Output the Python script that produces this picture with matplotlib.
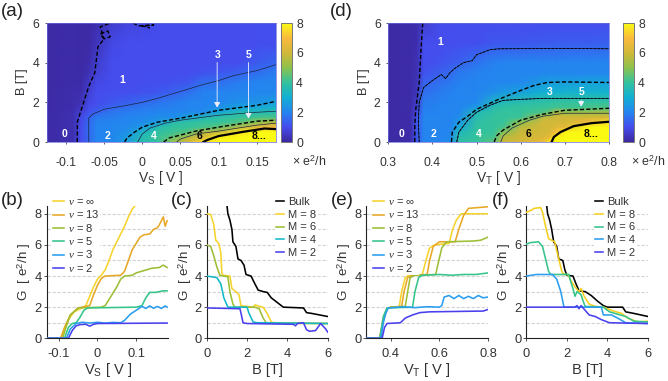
import numpy as np
import matplotlib
matplotlib.use('Agg')
import matplotlib.pyplot as plt
from matplotlib.colors import LinearSegmentedColormap

plt.rcParams['font.family'] = ['Liberation Sans', 'DejaVu Sans']
plt.rcParams['mathtext.fontset'] = 'custom'
plt.rcParams['mathtext.rm'] = 'Liberation Sans'
plt.rcParams['mathtext.it'] = 'Liberation Serif:italic'
TXT = '#333333'

# ---------- heat map data ----------
B_rows = [0, .25, .5, .75, 1, 1.25, 1.5, 1.75, 2, 2.5, 3, 3.5, 4, 5, 6]
Vs_cols = [-.125, -.09, -.08, -.07, -.06, -.04, -.02, 0, .02, .04, .06, .08, .1, .125, .15, .175]
heat_a = [
    [.1]*15,
    [.25,.25,.25,.25,.25,.25,.25,.2,.2,.2,.15,.15,.15,.15,.15],
    [1,1,1,1,.95,.9,.7,.45,.3,.2,.15,.1,.1,.1,.1],
    [1.5,1.5,1.5,1.5,1.5,1.4,1.1,1,.9,.7,.5,.3,.2,.1,.1],
    [2,2,2,2,1.95,1.8,1.4,1.15,1,1,.9,.7,.6,.4,.2],
    [2.05,2.05,2.05,2.05,2,1.9,1.75,1.45,1.2,1.05,1,1,1,.9,.6],
    [2.6,2.5,2.3,2.1,2.05,2,1.9,1.6,1.35,1.05,1,1,1,1,.8],
    [3.7,3.6,3.3,2.5,2.2,2.05,1.95,1.8,1.5,1.1,1,1,1,1,.9],
    [4,4,3.95,3.65,2.5,2.2,2.05,1.9,1.7,1.2,1.05,1,1,1,1],
    [5.2,4.5,4.1,4,3.7,2.2,2.05,1.95,1.85,1.4,1.1,1,1,1,1],
    [6,5.6,4.4,4,3.95,2.8,2.1,2,2,1.65,1.2,1,1,1,1],
    [7.5,6.2,5.7,4.2,4,3.5,2.2,2.05,2,1.95,1.6,1.1,1,1,1],
    [8,7.8,5.9,4.5,4,3.9,2.8,2.3,2.05,2,1.65,1.2,1,1,1],
    [8,8,7.6,5.6,4.3,4,3.6,2.7,2.3,2,1.9,1.35,1,1,1],
    [8,8,8,6.5,5,4.2,3.5,2.8,2.4,2.05,2,1.6,1.25,1,1],
    [8,8,8,7,5.7,4.3,3.8,3.2,2.6,2.1,2,1.9,1.45,1.05,1],
]
Vt_cols = [.3, .35, .365, .38, .42, .44, .46, .5, .54, .56, .6, .65, .665, .68, .7, .75, .8]
heat_d = [
    [.1]*15,
    [.15]*15,
    [1.2,1.2,1.2,1.2,1.2,1.1,.9,.75,.6,.4,.35,.3,.3,.2,.2],
    [2,2,2,2,2,2,1.95,1.9,1.85,1.6,1.4,1.1,1,1,.6],
    [2,2,2,2,2,2,2,2,1.95,1.9,1.65,1.4,1.15,1,1],
    [2.2,2.1,2.05,2,2,2,2,2,2,1.95,1.8,1.55,1.25,1,1],
    [3.9,3.7,3.4,2.8,2.5,2.2,2.05,2,2,2,1.95,1.8,1.35,1.05,1],
    [4,4,4,3.95,3.85,3.7,3.5,2.5,2.1,2,2,1.95,1.7,1.05,1],
    [4.5,4.2,4.05,4,4,4,3.95,3.75,3.3,2.3,2.05,2,1.95,1.2,1],
    [5.9,5.6,4.9,4.2,4,4,4,3.9,3.55,2.5,2.05,2,2,1.2,1],
    [6,6,5.9,5.7,5,4.1,4,4,3.7,2.7,2.1,2,2,1.2,1],
    [6.6,6.2,6,6,6,5.7,4.3,4.05,3.9,3,2.55,2.05,2,1.25,1],
    [7.6,6.6,6.1,6,6,5.8,4.6,4.05,3.95,3,2.6,2.05,2,1.25,1],
    [8,7.9,7,6.3,6,6,5.6,4.15,4,3.05,2.6,2.05,2,1.3,1],
    [8,8,7.9,6.5,6,6,5.2,4.1,4,3.1,2.6,2.05,2,1.3,1],
    [8,8,8,8,6.8,6,5.3,4.2,4,3.1,2.7,2.05,2,1.3,1],
    [8,8,8,8,7.6,6.1,5.3,4.3,4,3.1,2.7,2.05,2,1.35,1],
]

# ---------- contour traces (V, B) ----------
a_c05 = ([-.085,-.085,-.08,-.07,-.062,-.058,-.05,-.055,-.045,-.042,-.05,-.055,-.042],
         [0,1,1.6,2.8,3.5,4.8,5.2,5.45,5.6,5.3,5.2,5.8,6])
a_c05b = ([-.012,-.005,.015,.0,.01], [6,5.85,5.9,5.85,5.75])
a_c15 = ([-.07,-.07,-.065,-.05,-.02,0,.02,.05,.08,.1,.12,.15,.175],
         [0,1.2,1.4,1.65,1.85,2,2.2,2.55,2.9,3.1,3.35,3.6,3.9])
a_c25 = ([-.023,-.02,-.01,0,.02,.05,.1,.15,.175], [0,.2,.5,.75,1,1.2,1.6,1.85,2.05])
a_c35 = ([-.006,0,.01,.03,.05,.1,.15,.175], [0,.4,.7,.95,1.1,1.35,1.5,1.55])
a_c45 = ([.028,.035,.05,.07,.1,.15,.175], [0,.2,.35,.55,.75,1.05,1.1])
a_c55 = ([.045,.05,.07,.1,.15,.175], [0,.15,.4,.55,.85,.95])
a_c75 = ([.08,.085,.1,.13,.16,.175], [0,.1,.3,.5,.68,.65])

d_c05 = ([.36,.36,.362,.37,.375,.378], [0,.8,1.6,3,5,6])
d_c15 = ([.37,.368,.37,.38,.4,.42,.43,.44,.45,.47,.49,.5,.53,.55,.7,.8],
         [0,1,2,2.75,3.1,3.4,3.2,3.5,3.7,4.0,4.1,4.4,4.65,4.7,4.72,4.7])
d_c25 = ([.443,.445,.46,.48,.5,.55,.6,.63,.66,.7,.8], [0,.5,1,1.3,1.65,2.15,2.6,2.85,3,3.03,3])
d_c35 = ([.455,.46,.48,.5,.53,.56,.6,.65,.8], [0,.5,1.1,1.5,1.85,2.1,2.15,2.2,2.2])
d_c45 = ([.54,.545,.56,.6,.65,.7,.75,.8], [0,.3,.6,1.1,1.4,1.6,1.65,1.7])
d_c55 = ([.555,.56,.58,.62,.65,.7,.8], [0,.3,.7,1.1,1.3,1.45,1.45])
d_c75 = ([.67,.675,.69,.72,.76,.8], [0,.25,.5,.8,.95,1.02])

# ---------- line panels ----------
b_inf = ([-.13,-.095,-.085,-.075,-.06,-.04,-.03,-.02,-.01,0,.01,.02,.03,.04,.05,.06,.07,.08,.09,.1],
         [0,0,.6,1.2,1.7,1.95,2.1,2.7,3.3,3.8,4.05,4.4,5,5.7,6.2,6.7,7.2,7.8,8.3,8.6])
b_13 = ([-.13,-.095,-.085,-.07,-.05,-.02,-.01,0,.01,.02,.06,.07,.08,.09,.1,.11,.12,.135,.145,.155,.16,.17,.175,.18],
        [0,0,.7,1.5,1.95,2.1,2.8,3.4,3.85,4,4.05,4.3,5,5.7,6.1,6.5,6.65,6.7,7,7.1,7.3,7.8,7.2,7.55])
b_8 = ([-.13,-.09,-.08,-.07,-.05,.01,.02,.03,.04,.05,.06,.07,.09,.1,.12,.14,.16,.17,.18],
       [0,0,.8,1.5,1.95,2,2.1,2.5,2.9,3.3,3.8,4,4.05,4.2,4.35,4.5,4.55,4.7,4.55])
b_5 = ([-.13,-.085,-.075,-.065,-.055,-.045,-.035,-.025,.1,.115,.125,.135,.15,.17,.18],
       [0,0,.7,.95,1,1.35,1.8,1.95,2,2.1,2.6,2.95,2.95,3.05,3.05])
b_3 = ([-.13,-.08,-.07,-.055,-.04,-.02,0,.02,.04,.06,.07,.085,.1,.115,.125,.135,.145,.155,.165,.175,.18],
       [0,0,.6,.95,1.03,.98,1.03,.98,1.02,1,1.15,1.55,1.8,2.05,1.92,2.08,1.93,2.05,1.92,2.08,2])
b_2 = ([-.13,-.075,-.065,-.055,-.045,-.03,-.02,-.01,0,.18],
       [0,0,.5,.8,.88,.9,.78,.9,.95,.98])

c_bulk = ([1,1.05,1.15,1.25,1.3,1.45,1.55,1.7,1.85,1.95,2.2,2.35,2.55,2.8,3,3.2,3.5,3.8,4.8,4.95,5.2,5.6,6],
          [8.6,8,7.6,7,6.2,5.9,5.1,5,4.7,4.1,4,3.6,3.1,3,2.95,2.6,2.3,2,1.95,1.65,1.6,1.5,1.4])
c_8 = ([0,.2,.35,.45,.6,.7,.75,.8,1.15,1.25,1.45,1.6,1.7,2.3,2.4,2.6,2.8,3,3.2,3.5,6],
       [8,7.95,7.3,6.3,6.1,5.5,4.2,4.05,4,3.2,3,2.8,2.1,2,2.15,2.05,2,1.6,1.05,.95,.95])
c_6 = ([0,.2,.35,.5,.65,1.05,1.15,1.3,1.4,2.4,2.6,2.8,2.95,6],
       [6,5.9,5.3,4.6,4.05,3.95,3,2.2,2,2,1.9,1.3,1,.95])
c_4 = ([0,.5,.7,.85,1.05,2,2.1,2.3,2.5,6], [4,3.9,3.5,2.6,2,2,1.6,1.05,1,.95])
c_2 = ([0,1.65,1.72,1.8,2,4.3,4.4,4.5,4.8,4.95,5.1,5.4,5.65,5.9,6],
       [1.95,1.9,1.5,1,.95,.9,.8,.95,1,.55,.45,.5,.95,.6,.4])

e_inf = ([.3,.355,.37,.385,.4,.435,.445,.46,.475,.53,.545,.56,.58,.64,.655,.67,.69,.8],
         [0,0,1.2,1.9,2,2,3,3.9,4.05,4.1,5,5.8,6,6.1,7,7.6,8,8])
e_13 = ([.3,.355,.37,.385,.4,.445,.455,.47,.49,.55,.56,.575,.6,.665,.68,.7,.72,.8],
        [0,0,1.3,1.9,2,2.05,3,3.9,4.05,4.1,5,5.9,6.2,6.2,7,7.9,8.35,8.45])
e_8 = ([.3,.36,.37,.385,.4,.46,.47,.48,.5,.585,.595,.61,.63,.74,.77,.8],
       [0,0,1.2,1.9,2,2.05,3,3.9,4.05,4.1,4.8,5.8,6.2,6.25,6.3,6.5])
e_5 = ([.3,.355,.37,.385,.49,.5,.515,.53,.6,.65,.7,.75,.8],
       [0,0,1.4,1.95,2,3,3.9,4.05,4.1,4.05,4.1,4.1,4.2])
e_3 = ([.3,.36,.37,.38,.39,.45,.5,.55,.6,.61,.62,.64,.66,.68,.7,.72,.74,.76,.78,.8],
       [0,0,1,1.6,1.95,2.02,1.97,2.03,2,2.1,2.65,2.75,2.55,2.75,2.55,2.7,2.55,2.75,2.6,2.65])
e_2 = ([.3,.365,.375,.385,.44,.46,.49,.52,.56,.78,.8],
       [0,0,.7,.95,1,1.3,1.5,1.65,1.7,1.75,1.85])

f_bulk = ([1,1.05,1.15,1.25,1.35,1.5,1.6,1.8,1.9,2,2.3,2.45,2.6,2.9,3.2,3.5,3.8,4,4.75,4.9,5.3,6],
          [8.6,8,7.6,7,6.2,5.9,5.1,5,4.4,4.05,4,3.5,3.05,3,2.75,2.4,2.1,2,2,1.7,1.6,1.4])
f_8 = ([0,.2,.4,.7,.8,.95,1.1,1.4,1.6,1.75,1.85,2.05,2.2,2.4,2.6,2.7,2.85,3.1,3.4,3.8,4,4.3,4.7,5,5.5,6],
       [8.1,8.2,8.35,8.4,8.1,7.2,6.4,6.2,5.1,4.3,4.1,4.1,3.7,3.3,3,3.2,2.7,2.2,2.05,2,1.9,1.75,1.6,1.3,1.05,1.1])
f_6 = ([0,.2,.6,.8,.95,1.1,1.2,2.1,2.2,2.3,2.4,2.5,2.7,2.8,2.9,3.8,4.1,4.5,4.9,5.3,6],
       [6.05,6.15,6.2,5.9,5.1,4.3,4.1,4.1,3.6,3.2,2.7,3,2.8,2.4,2.05,2,1.7,1.55,1.4,1.1,1.05])
f_4 = ([0,.5,1.3,1.5,1.7,1.85,1.9,3.7,3.8,4.2,4.5,4.9,6],
       [4,4.1,4.1,3.8,3,2.05,2,2,1.5,1.5,1.3,1,.95])
f_2 = ([0,2.4,2.5,2.6,2.7,2.9,3.1,3.4,3.7,4.1,6],
       [2,2,2.1,1.9,2.1,1.8,1.5,1.4,1.2,1,.95])

nu_labels = [r'$\nu$ = $\infty$', r'$\nu$ = 13', r'$\nu$ = 8', r'$\nu$ = 5', r'$\nu$ = 3', r'$\nu$ = 2']
c_labels = ['Bulk', 'M = 8', 'M = 6', 'M = 4', 'M = 2']
G_ticks = [0, 2, 4, 6, 8]

# ---------- colours ----------
parula = LinearSegmentedColormap.from_list('parula', [
    (0.00, (0.235, 0.155, 0.62)),
    (0.125, (0.27, 0.30, 0.93)),
    (0.25, (0.14, 0.52, 0.94)),
    (0.375, (0.07, 0.69, 0.83)),
    (0.50, (0.20, 0.76, 0.62)),
    (0.625, (0.55, 0.76, 0.30)),
    (0.75, (0.82, 0.72, 0.22)),
    (0.875, (0.98, 0.73, 0.24)),
    (1.00, (0.98, 0.98, 0.07))])
Y = '#f6d32d'; O = '#e6a826'; LG = '#9cbf35'; G = '#35c48a'; AZ = '#2a9df0'; V = '#4a40ee'
TEAL = '#12b8c8'

W, H = 668, 381
fig = plt.figure(figsize=(W/100, H/100), dpi=100)

def axpx(x0, x1, y0, y1):
    return fig.add_axes([x0/W, 1-y1/H, (x1-x0)/W, (y1-y0)/H])

def heat(x0, x1, cols, data, xlim, xticks, xtlab, xlabel, xl_x, yl_x, cb0, cb1):
    ax = axpx(x0, x1, 23, 142)
    Z = np.array(data).T
    m = ax.pcolormesh(cols, B_rows, Z, cmap=parula, vmin=0, vmax=8, shading='gouraud', rasterized=True)
    ax.set_xlim(*xlim); ax.set_ylim(0, 6)
    ax.set_xticks(xticks); ax.set_xticklabels(xtlab)
    ax.set_yticks([0, 2, 4, 6])
    ax.tick_params(direction='out', length=1.5, width=.6, labelsize=8.8, labelcolor=TXT, color='#444444')
    ax.tick_params(axis='x', pad=9)
    ax.tick_params(axis='y', pad=4)
    for s in ax.spines.values():
        s.set_linewidth(.5); s.set_color('#6a6fd8')
    fig.text(yl_x/W, 1-82/H, 'B [T]', fontsize=9.2, color=TXT, rotation=90, ha='center', va='center')
    fig.text(xl_x/W, 1-178/H, xlabel, fontsize=10, color=TXT, ha='center', va='center')
    cax = axpx(cb0, cb1, 23, 142)
    cb = fig.colorbar(m, cax=cax)
    cb.set_ticks([0, 2, 4, 6, 8])
    cb.ax.tick_params(length=0, labelsize=8.8, labelcolor=TXT, pad=3)
    cb.outline.set_linewidth(.7); cb.outline.set_edgecolor('#777777')
    return ax

THIN = dict(color='#1c2340', lw=.5)
DASH = dict(color='black', lw=1.0, ls=(0, (3, 1.6)))
THICK = dict(color='black', lw=1.6)

# (a)
axa = heat(46.7, 276, Vs_cols, heat_a, (-.125, .175), [-.1, -.05, 0, .05, .1, .15],
           ['-0.1', '-0.05', '0', '0.05', '0.1', '0.15'], r'V$_{\rm S}$ [ V ]', 161, 22, 281, 292)
for c, st in [(a_c05, DASH), (a_c05b, DASH), (a_c15, THIN), (a_c25, DASH), (a_c35, THIN),
              (a_c45, DASH), (a_c55, THIN), (a_c75, THICK)]:
    axa.plot(c[0], c[1], **st)
for x, y, s, col in [(-.102, .38, '0', 'w'), (-.046, .3, '2', 'w'), (-.026, 3.12, '1', 'w'), (.015, .28, '4', 'w'),
                     (.075, .28, '6', 'k'), (.153, .28, '8...', 'k'), (.098, 4.4, '3', 'w'), (.139, 4.4, '5', 'w')]:
    axa.text(x, y, s, color=col, fontsize=7.5, fontweight='bold', ha='center', va='center')
axa.annotate('', xy=(.098, 1.6), xytext=(.098, 4.15), arrowprops=dict(arrowstyle='-|>,head_width=.18,head_length=.3', color='#f0f0ff', lw=.6))
axa.annotate('', xy=(.139, 1.05), xytext=(.139, 4.15), arrowprops=dict(arrowstyle='-|>,head_width=.18,head_length=.3', color='#f0f0ff', lw=.6))

# (d)
axd = heat(388.3, 609, Vt_cols, heat_d, (.3, .8), [.3, .4, .5, .6, .7, .8],
           ['0.3', '0.4', '0.5', '0.6', '0.7', '0.8'], r'V$_{\rm T}$ [ V ]', 499, 364, 623, 634)
for c, st in [(d_c05, DASH), (d_c15, THIN), (d_c15, dict(color='black', lw=.6, ls=(0, (3, 1.6)))), (d_c25, DASH),
              (d_c35, THIN), (d_c35, dict(color='black', lw=.6, ls=(0, (3, 1.6)))), (d_c45, DASH), (d_c55, THIN), (d_c75, THICK)]:
    axd.plot(c[0], c[1], **st)
for x, y, s, col in [(.33, .38, '0', 'w'), (.403, .38, '2', 'w'), (.418, 5.05, '1', 'w'), (.506, .38, '4', 'w'),
                     (.618, .38, '6', 'k'), (.76, .38, '8...', 'k'), (.665, 2.5, '3', 'w'), (.737, 2.5, '5', 'w')]:
    axd.text(x, y, s, color=col, fontsize=7.5, fontweight='bold', ha='center', va='center')
axd.annotate('', xy=(.737, 1.65), xytext=(.737, 2.25), arrowprops=dict(arrowstyle='-|>,head_width=.18,head_length=.3', color='#f0f0ff', lw=.6))

fig.text(292/W, 1-162/H, r'$\times$ e$^2$/h', fontsize=9, color=TXT, ha='left', va='center')
fig.text(631/W, 1-162/H, r'$\times$ e$^2$/h', fontsize=9, color=TXT, ha='left', va='center')

def lines(x0, x1, series, labels, xlim, xticks, xtlab, xlabel, xl_x, yl_x, leg_x, leg_y, hl, spacing):
    ax = axpx(x0, x1, 206, 338.3)
    for g in range(1, 9):
        ax.axhline(g, color='#d2d2d2', lw=.8, ls=(0, (3, 1.5)), zorder=0)
    for (d, c, lw), lab in zip(series, labels):
        ax.plot(d[0], d[1], color=c, lw=lw, label=lab, zorder=3)
    ax.set_xlim(*xlim); ax.set_ylim(0, 8.5)
    ax.set_xticks(xticks); ax.set_xticklabels(xtlab)
    ax.set_yticks(G_ticks)
    ax.spines[['top', 'right']].set_visible(False)
    ax.tick_params(direction='out', length=2, width=.6, labelsize=9.3, labelcolor=TXT, color='#333333')
    ax.tick_params(axis='x', pad=5)
    ax.tick_params(axis='y', pad=1.5)
    for s in ('left', 'bottom'):
        ax.spines[s].set_linewidth(.8); ax.spines[s].set_color('#222222')
    fig.text(yl_x/W, 1-272/H, r'G  [ e$^2$/h ]', fontsize=9.6, color=TXT, rotation=90, ha='center', va='center')
    fig.text(xl_x/W, 1-370/H, xlabel, fontsize=10.5, color=TXT, ha='center', va='center')
    h, l = ax.get_legend_handles_labels()
    leg = fig.legend(h, l, loc='upper left', bbox_to_anchor=(leg_x/W, 1-leg_y/H), fontsize=8, frameon=True,
                     framealpha=1, edgecolor='none', facecolor='white', labelspacing=spacing, handlelength=hl,
                     handletextpad=.35, borderpad=.1, borderaxespad=0, labelcolor=TXT)
    leg.set_zorder(5)
    return ax

LW = 1.15
lines(46.7, 168.3, [(b_inf, Y, LW), (b_13, O, LW), (b_8, LG, LW), (b_5, G, LW), (b_3, AZ, LW), (b_2, V, LW)], nu_labels,
      (-.131, .183), [-.1, 0, .1], ['-0.1', '0', '0.1'], r'V$_{\rm S}$ [ V ]', 108, 24, 52, 196, .95, .12)
lines(206.7, 327.7, [(c_bulk, 'black', LW), (c_8, Y, LW), (c_6, LG, LW), (c_4, TEAL, LW), (c_2, V, LW)], c_labels,
      (0, 6), [0, 2, 4, 6], ['0', '2', '4', '6'], 'B [T]', 267, 185, 275, 196, .75, .24)
lines(366.3, 488, [(e_inf, Y, LW), (e_13, O, LW), (e_8, LG, LW), (e_5, G, LW), (e_3, AZ, LW), (e_2, V, LW)], nu_labels,
      (.3, .8), [.4, .6, .8], ['0.4', '0.6', '0.8'], r'V$_{\rm T}$ [ V ]', 427, 344, 372, 196, .95, .12)
lines(526.3, 648, [(f_bulk, 'black', LW), (f_8, '#f5cf1e', LW), (f_6, G, LW), (f_4, AZ, LW), (f_2, V, LW)], c_labels,
      (0, 6), [0, 2, 4, 6], ['0', '2', '4', '6'], 'B [T]', 587, 504, 594, 196, .75, .24)

for x, y, s in [(1, 11, '(a)'), (330, 11, '(d)'), (1, 201, '(b)'), (171, 201, '(c)'), (331, 201, '(e)'), (492, 201, '(f)')]:
    fig.text(x/W, 1-y/H, s, fontsize=13.5, color='#222222', ha='left', va='center')

fig.savefig('out.png', dpi=100)
